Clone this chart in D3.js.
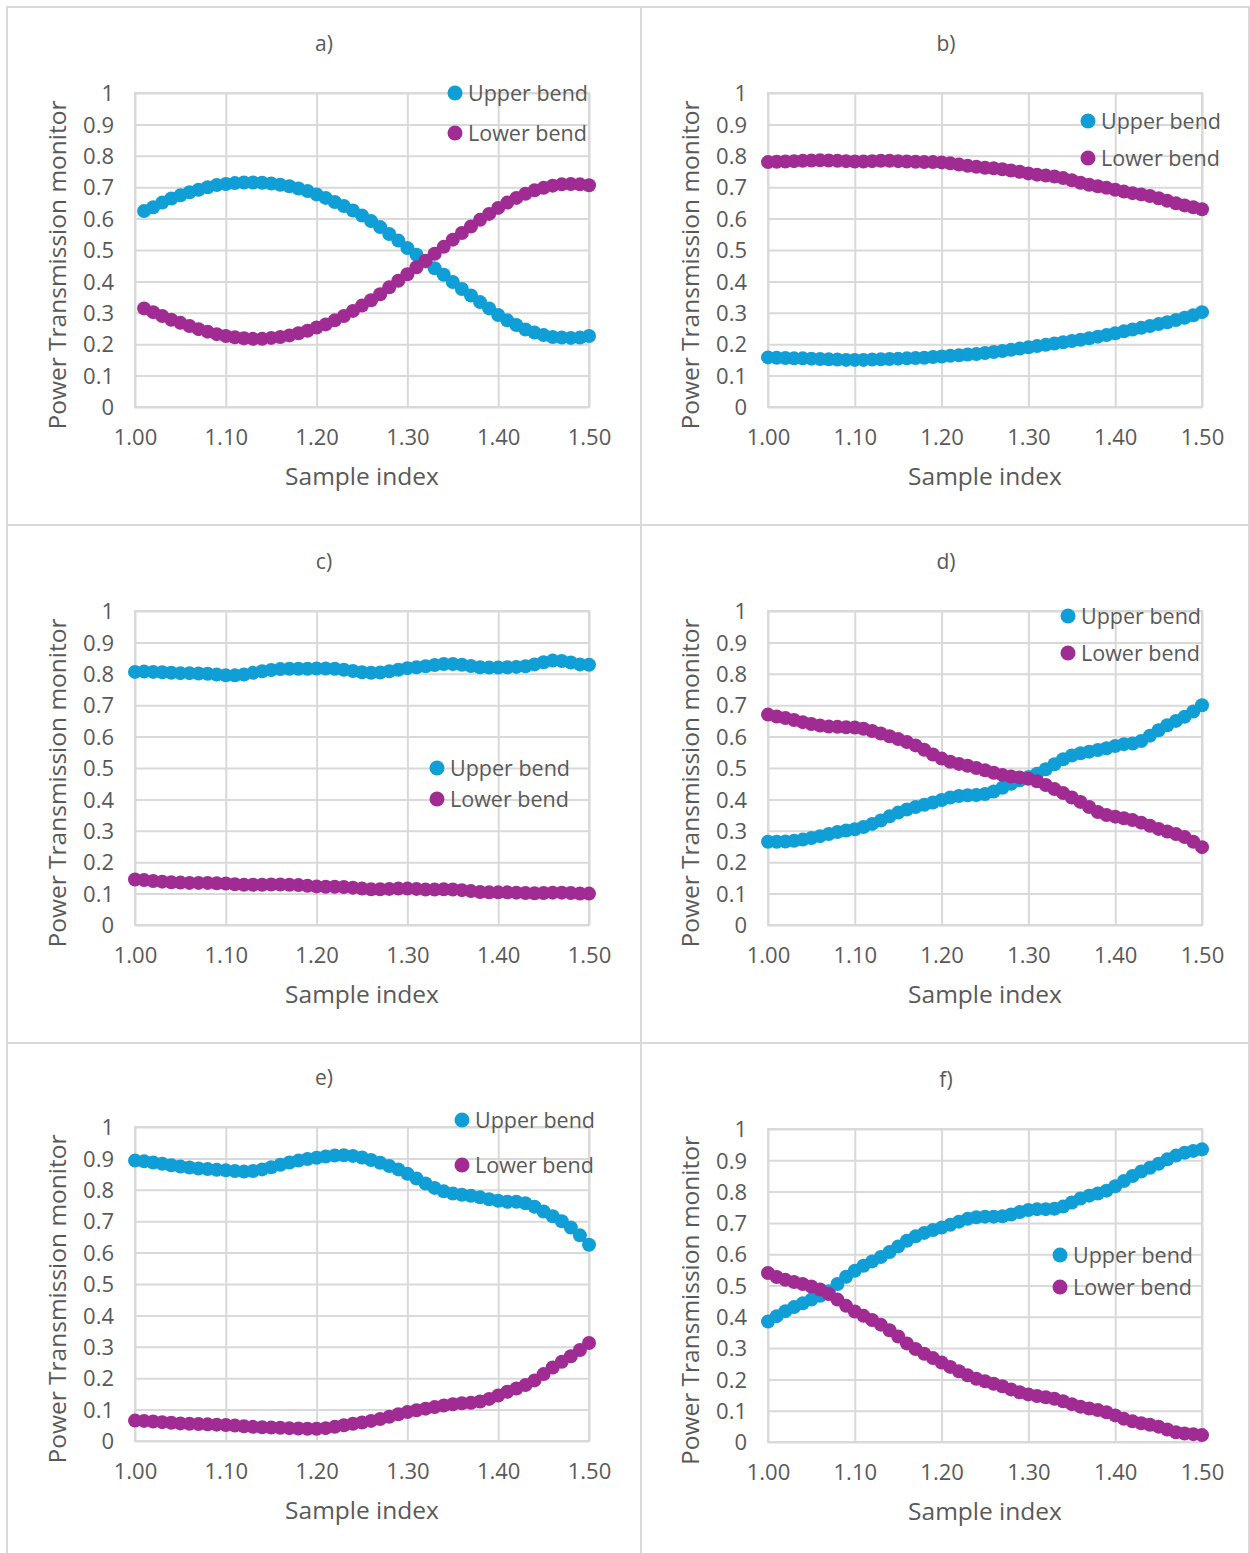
<!DOCTYPE html>
<html>
<head>
<meta charset="utf-8">
<script src="https://cdn.jsdelivr.net/npm/d3@7"></script>
<style>
  html, body { margin: 0; padding: 0; background: #ffffff; }
  svg { display: block; }
  text { font-family: "Open Sans", "Noto Sans", sans-serif; fill: #595959; }
</style>
</head>
<body>
<svg id="chart" width="1250" height="1553"></svg>
<script>
// ---- data -------------------------------------------------------------
const panelLabels = ["a)", "b)", "c)", "d)", "e)", "f)"];
const seriesNames = ["Upper bend", "Lower bend"];
const xTickLabels = ["1.00", "1.10", "1.20", "1.30", "1.40", "1.50"];
const yTickLabels = ["0", "0.1", "0.2", "0.3", "0.4", "0.5", "0.6", "0.7", "0.8", "0.9", "1"];

// sample index for panel a (starts at 1.01) and for panels b-f (start at 1.00)
const sampleIndexA = [1.01,1.02,1.03,1.04,1.05,1.06,1.07,1.08,1.09,1.10,1.11,1.12,1.13,1.14,1.15,1.16,1.17,1.18,1.19,1.20,1.21,1.22,1.23,1.24,1.25,1.26,1.27,1.28,1.29,1.30,1.31,1.32,1.33,1.34,1.35,1.36,1.37,1.38,1.39,1.40,1.41,1.42,1.43,1.44,1.45,1.46,1.47,1.48,1.49,1.50];
const sampleIndex = [1.00,1.01,1.02,1.03,1.04,1.05,1.06,1.07,1.08,1.09,1.10,1.11,1.12,1.13,1.14,1.15,1.16,1.17,1.18,1.19,1.20,1.21,1.22,1.23,1.24,1.25,1.26,1.27,1.28,1.29,1.30,1.31,1.32,1.33,1.34,1.35,1.36,1.37,1.38,1.39,1.40,1.41,1.42,1.43,1.44,1.45,1.46,1.47,1.48,1.49,1.50];

const upperA = [0.624,0.636,0.651,0.664,0.674,0.684,0.692,0.700,0.707,0.710,0.713,0.715,0.715,0.714,0.712,0.708,0.703,0.696,0.688,0.677,0.666,0.653,0.640,0.626,0.610,0.592,0.573,0.551,0.530,0.506,0.485,0.463,0.442,0.421,0.398,0.376,0.355,0.334,0.314,0.293,0.276,0.261,0.247,0.237,0.229,0.223,0.221,0.220,0.221,0.226];
const lowerA = [0.314,0.302,0.290,0.278,0.268,0.258,0.248,0.240,0.232,0.226,0.222,0.219,0.217,0.217,0.220,0.223,0.228,0.235,0.243,0.253,0.263,0.276,0.290,0.306,0.323,0.340,0.359,0.381,0.402,0.423,0.445,0.466,0.488,0.510,0.533,0.554,0.575,0.596,0.615,0.634,0.651,0.666,0.679,0.690,0.698,0.705,0.709,0.710,0.709,0.706];

const upperB = [0.158,0.157,0.156,0.155,0.155,0.154,0.153,0.152,0.151,0.150,0.150,0.150,0.151,0.152,0.153,0.154,0.155,0.156,0.157,0.159,0.161,0.163,0.165,0.167,0.169,0.172,0.175,0.178,0.182,0.186,0.190,0.194,0.198,0.202,0.206,0.210,0.214,0.219,0.224,0.229,0.235,0.241,0.247,0.252,0.258,0.264,0.270,0.277,0.284,0.292,0.302];
const lowerB = [0.780,0.781,0.782,0.783,0.784,0.785,0.786,0.785,0.784,0.783,0.782,0.782,0.783,0.784,0.784,0.783,0.782,0.781,0.780,0.780,0.779,0.776,0.772,0.768,0.765,0.762,0.760,0.757,0.753,0.749,0.744,0.740,0.737,0.734,0.729,0.722,0.714,0.708,0.703,0.698,0.692,0.686,0.681,0.677,0.672,0.665,0.657,0.649,0.642,0.636,0.630];

const upperC = [0.806,0.807,0.806,0.805,0.803,0.802,0.802,0.801,0.800,0.798,0.795,0.795,0.798,0.803,0.808,0.812,0.815,0.816,0.816,0.816,0.817,0.817,0.816,0.813,0.809,0.805,0.803,0.804,0.808,0.813,0.818,0.821,0.824,0.828,0.831,0.831,0.829,0.825,0.821,0.820,0.820,0.821,0.822,0.824,0.830,0.837,0.842,0.841,0.836,0.830,0.829];
const lowerC = [0.145,0.143,0.140,0.138,0.136,0.135,0.134,0.134,0.134,0.133,0.132,0.130,0.128,0.128,0.128,0.129,0.129,0.128,0.127,0.125,0.123,0.122,0.122,0.121,0.119,0.116,0.114,0.114,0.115,0.116,0.116,0.115,0.113,0.113,0.114,0.113,0.111,0.108,0.105,0.104,0.104,0.104,0.103,0.102,0.101,0.102,0.103,0.103,0.102,0.100,0.100];

const upperD = [0.265,0.265,0.266,0.268,0.272,0.277,0.283,0.290,0.296,0.301,0.305,0.312,0.322,0.333,0.346,0.358,0.368,0.376,0.383,0.390,0.398,0.406,0.411,0.413,0.414,0.417,0.425,0.437,0.450,0.461,0.471,0.482,0.496,0.512,0.528,0.540,0.547,0.552,0.557,0.563,0.570,0.576,0.578,0.586,0.603,0.620,0.636,0.650,0.663,0.680,0.700];
const lowerD = [0.670,0.664,0.659,0.653,0.646,0.640,0.635,0.632,0.631,0.630,0.629,0.625,0.618,0.610,0.601,0.592,0.583,0.572,0.558,0.543,0.530,0.520,0.513,0.507,0.500,0.493,0.485,0.478,0.473,0.470,0.466,0.458,0.446,0.433,0.420,0.406,0.392,0.376,0.360,0.350,0.345,0.340,0.334,0.326,0.316,0.306,0.298,0.290,0.280,0.265,0.248];

const upperE = [0.893,0.891,0.887,0.883,0.878,0.874,0.871,0.868,0.866,0.864,0.862,0.860,0.858,0.860,0.865,0.872,0.880,0.887,0.893,0.898,0.902,0.906,0.909,0.910,0.908,0.903,0.895,0.886,0.876,0.865,0.851,0.836,0.820,0.806,0.795,0.788,0.784,0.781,0.776,0.770,0.765,0.762,0.762,0.757,0.746,0.731,0.716,0.700,0.680,0.655,0.625];
const lowerE = [0.065,0.064,0.062,0.060,0.058,0.056,0.055,0.054,0.053,0.052,0.051,0.049,0.047,0.045,0.044,0.043,0.042,0.041,0.040,0.039,0.039,0.041,0.045,0.050,0.055,0.059,0.064,0.070,0.077,0.085,0.092,0.098,0.103,0.108,0.113,0.117,0.120,0.122,0.126,0.134,0.145,0.157,0.167,0.178,0.193,0.213,0.234,0.252,0.270,0.290,0.312];

const upperF = [0.385,0.402,0.418,0.431,0.443,0.455,0.467,0.482,0.505,0.528,0.547,0.563,0.577,0.591,0.607,0.625,0.643,0.657,0.668,0.677,0.685,0.694,0.704,0.713,0.718,0.720,0.720,0.721,0.727,0.735,0.741,0.744,0.744,0.745,0.752,0.765,0.778,0.787,0.794,0.803,0.817,0.834,0.850,0.864,0.876,0.889,0.903,0.915,0.924,0.930,0.935];
const lowerF = [0.540,0.527,0.518,0.511,0.505,0.497,0.487,0.473,0.455,0.435,0.417,0.403,0.390,0.375,0.357,0.337,0.315,0.297,0.282,0.268,0.254,0.240,0.226,0.213,0.202,0.194,0.186,0.178,0.168,0.159,0.152,0.147,0.143,0.138,0.130,0.121,0.113,0.107,0.102,0.095,0.085,0.074,0.066,0.060,0.055,0.049,0.040,0.031,0.027,0.025,0.022];

// ---- layout ------------------------------------------------------------
const colors = ["#0F9ED5", "#A02B93"];
const gridColor = "#D9D9D9";

// plot rectangles and legend anchors for the six panels
const panels = [
  { x: sampleIndexA, up: upperA, low: lowerA, left: 135, right: 589, top: 93,   bottom: 407,  cx: 324, legend: [455, 93, 40] },
  { x: sampleIndex,  up: upperB, low: lowerB, left: 768, right: 1202, top: 93,  bottom: 407,  cx: 946, legend: [1088, 121, 37] },
  { x: sampleIndex,  up: upperC, low: lowerC, left: 135, right: 589, top: 611,  bottom: 925,  cx: 324, legend: [437, 768, 31] },
  { x: sampleIndex,  up: upperD, low: lowerD, left: 768, right: 1202, top: 611, bottom: 925,  cx: 946, legend: [1068, 616, 37] },
  { x: sampleIndex,  up: upperE, low: lowerE, left: 135, right: 589, top: 1127, bottom: 1441, cx: 324, legend: [462, 1120, 45] },
  { x: sampleIndex,  up: upperF, low: lowerF, left: 768, right: 1202, top: 1129, bottom: 1442, cx: 946, legend: [1060, 1255, 32] }
];

const svg = d3.select("#chart");

// outer frame and cell dividers
const frame = svg.append("g").attr("stroke", gridColor).attr("stroke-width", 2).attr("fill", "none");
frame.append("rect").attr("x", 7).attr("y", 7).attr("width", 1242).attr("height", 1560);
frame.append("line").attr("x1", 641).attr("x2", 641).attr("y1", 7).attr("y2", 1553);
frame.append("line").attr("x1", 7).attr("x2", 1249).attr("y1", 525).attr("y2", 525);
frame.append("line").attr("x1", 7).attr("x2", 1249).attr("y1", 1043).attr("y2", 1043);

panels.forEach((p, i) => {
  const g = svg.append("g");
  const xScale = d3.scaleLinear().domain([1.0, 1.5]).range([p.left, p.right]);
  const yScale = d3.scaleLinear().domain([0, 1]).range([p.bottom, p.top]);
  const xTicks = xTickLabels.map(Number);
  const yTicks = yTickLabels.map(Number);

  // gridlines with tick labels
  const xAxis = d3.axisBottom(xScale).tickValues(xTicks)
    .tickSize(-(p.bottom - p.top)).tickPadding(30).tickFormat(d3.format(".2f"));
  const yAxis = d3.axisLeft(yScale).tickValues(yTicks)
    .tickSize(-(p.right - p.left)).tickPadding(21)
    .tickFormat((d, k) => yTickLabels[k]);

  const gx = g.append("g").attr("transform", `translate(0,${p.bottom})`).call(xAxis);
  const gy = g.append("g").attr("transform", `translate(${p.left},0)`).call(yAxis);
  [gx, gy].forEach(a => {
    a.select(".domain").remove();
    a.selectAll(".tick line").attr("stroke", gridColor).attr("stroke-width", 2);
    a.selectAll(".tick text").attr("fill", "#595959")
      .style("font-family", '"Open Sans", sans-serif').style("font-size", "22px");
  });
  gx.selectAll(".tick text").attr("dy", "0.35em");
  gy.selectAll(".tick text").attr("dy", "0.35em");

  // plot area border
  g.append("rect").attr("x", p.left).attr("y", p.top)
    .attr("width", p.right - p.left).attr("height", p.bottom - p.top)
    .attr("fill", "none").attr("stroke", gridColor).attr("stroke-width", 2);

  // panel title
  g.append("text").attr("x", p.cx).attr("y", p.top - 49).attr("dy", "0.35em")
    .attr("text-anchor", "middle").style("font-size", "21px").text(panelLabels[i]);

  // axis titles
  g.append("text").attr("x", (p.left + p.right) / 2).attr("y", p.bottom + 69).attr("dy", "0.35em")
    .attr("text-anchor", "middle").style("font-size", "24.5px").text("Sample index");
  g.append("text")
    .attr("transform", `translate(${p.left - 78},${(p.top + p.bottom) / 2 + 15}) rotate(-90)`)
    .attr("dy", "0.35em").attr("text-anchor", "middle").style("font-size", "24.5px")
    .text("Power Transmission monitor");

  // series markers
  [p.up, p.low].forEach((vals, s) => {
    g.append("g").attr("fill", colors[s]).selectAll("circle")
      .data(vals.map((v, k) => [p.x[k], v]))
      .join("circle")
      .attr("cx", d => xScale(d[0]))
      .attr("cy", d => yScale(d[1]))
      .attr("r", 7);
  });

  // legend
  const [lx, ly, gap] = p.legend;
  seriesNames.forEach((name, s) => {
    const row = g.append("g").attr("transform", `translate(${lx},${ly + s * gap})`);
    row.append("circle").attr("r", 7.5).attr("fill", colors[s]);
    row.append("text").attr("x", 13).attr("dy", "0.35em").style("font-size", "21.5px").text(name);
  });
});
</script>
</body>
</html>
